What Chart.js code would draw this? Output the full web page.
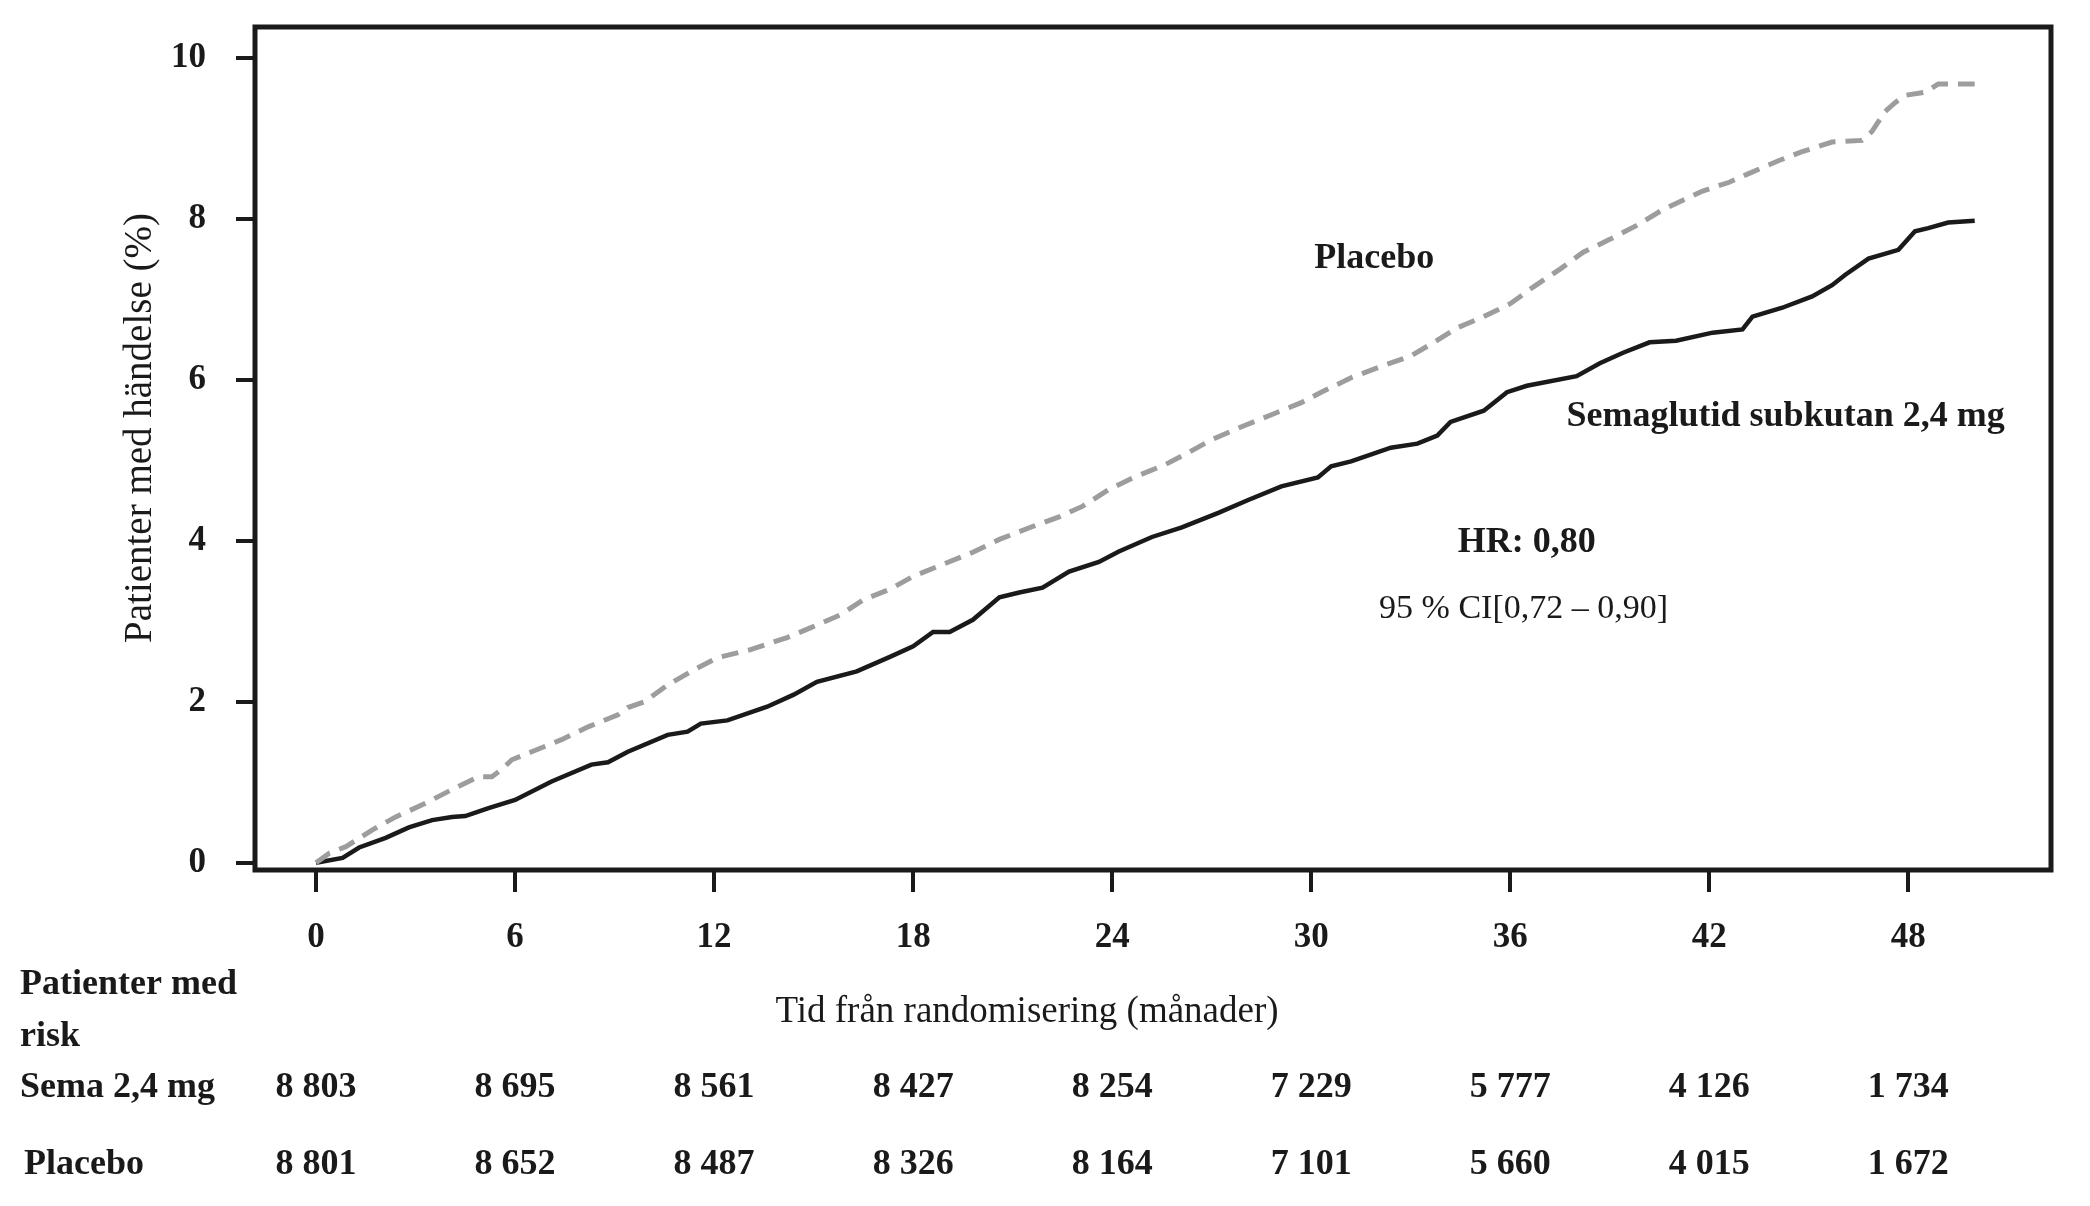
<!DOCTYPE html>
<html>
<head>
<meta charset="utf-8">
<script src="https://cdn.jsdelivr.net/npm/chart.js@4.4.0/dist/chart.umd.min.js"></script>
<style>
  html, body { margin: 0; padding: 0; background: #fff; }
  #grafico { display: block; }
</style>
</head>
<body>
<canvas id="grafico" width="2090" height="1206"></canvas>
<script>
// Semaglutid subkutan 2,4 mg (svart, heldragen)
const semaMeses = [0, 0.8, 1.3, 2.1, 2.8, 3.5, 4.1, 4.5, 5.2, 6.0, 7.1, 8.3, 8.8, 9.4, 10.6, 11.2, 11.6, 12.4,
  13.6, 14.4, 15.1, 16.3, 17.3, 18.0, 18.6, 19.1, 19.8, 20.6, 21.2, 21.9, 22.7, 23.6, 24.2, 25.2, 26.1,
  27.2, 28.1, 29.1, 30.2, 30.6, 31.2, 32.4, 33.2, 33.8, 34.2, 35.2, 35.6, 35.9, 36.5, 38.0, 38.7, 39.4,
  40.2, 41.0, 42.1, 43.0, 43.3, 44.2, 45.1, 45.7, 46.1, 46.8, 47.7, 48.2, 48.6, 49.2, 50.0];
const semaValores = [0, 0.06, 0.19, 0.31, 0.44, 0.53, 0.57, 0.58, 0.68, 0.78, 1.01, 1.22, 1.25, 1.38, 1.59, 1.63, 1.73, 1.77,
  1.94, 2.09, 2.25, 2.38, 2.56, 2.69, 2.87, 2.87, 3.02, 3.30, 3.36, 3.42, 3.62, 3.74, 3.87, 4.05, 4.17,
  4.35, 4.51, 4.68, 4.79, 4.93, 4.99, 5.16, 5.21, 5.31, 5.48, 5.62, 5.75, 5.85, 5.93, 6.05, 6.21, 6.34,
  6.47, 6.49, 6.59, 6.63, 6.79, 6.90, 7.04, 7.18, 7.31, 7.51, 7.62, 7.85, 7.89, 7.96, 7.98];

// Placebo (grå, streckad)
const placeboMeses = [0, 0.4, 0.9, 1.7, 2.4, 3.2, 4.1, 4.9, 5.3, 5.6, 5.9, 6.5, 7.4, 8.2, 9.1, 9.4, 9.9, 10.6, 11.4,
  12.1, 13.1, 14.2, 14.9, 15.8, 16.5, 17.3, 18.0, 18.9, 19.8, 20.6, 21.6, 22.4, 23.1, 23.9, 24.7, 25.6,
  26.3, 27.0, 27.9, 28.8, 29.7, 30.3, 31.2, 32.1, 33.0, 33.7, 34.4, 35.2, 36.0, 36.7, 37.5, 38.2, 39.0,
  39.8, 40.6, 41.8, 42.6, 43.2, 44.1, 44.8, 45.7, 46.6, 46.9, 47.3, 47.6, 47.9, 48.5, 48.9, 50.0];
const placeboValores = [0, 0.12, 0.20, 0.41, 0.57, 0.72, 0.91, 1.07, 1.07, 1.16, 1.28, 1.38, 1.53, 1.69, 1.84, 1.93, 2.00, 2.21, 2.40,
  2.55, 2.65, 2.80, 2.92, 3.08, 3.27, 3.40, 3.56, 3.71, 3.86, 4.02, 4.18, 4.30, 4.43, 4.64, 4.80, 4.95,
  5.10, 5.26, 5.42, 5.57, 5.72, 5.85, 6.03, 6.17, 6.30, 6.47, 6.65, 6.79, 6.95, 7.16, 7.38, 7.59, 7.75,
  7.92, 8.12, 8.35, 8.46, 8.57, 8.73, 8.84, 8.96, 8.98, 9.09, 9.34, 9.45, 9.54, 9.58, 9.68, 9.68];

// tabell: patienter med risk
const riskMeses = [0, 6, 12, 18, 24, 30, 36, 42, 48];
const riskSema = ['8 803', '8 695', '8 561', '8 427', '8 254', '7 229', '5 777', '4 126', '1 734'];
const riskPlacebo = ['8 801', '8 652', '8 487', '8 326', '8 164', '7 101', '5 660', '4 015', '1 672'];

const fuente = '"Liberation Serif", "Times New Roman", serif';
const tinta = '#1a1a1a';

function aPuntos(meses, valores) {
  return meses.map((m, i) => ({ x: m, y: valores[i] }));
}

function sinRelleno(scale) {
  scale.paddingTop = 0;
  scale.paddingBottom = 0;
  scale.paddingLeft = 0;
  scale.paddingRight = 0;
}

const textos = {
  id: 'textos',
  afterDraw(chart) {
    const ctx = chart.ctx;
    const area = chart.chartArea;
    const ex = chart.scales.x;
    const ey = chart.scales.y;

    ctx.save();
    // ram runt diagrammet
    ctx.strokeStyle = tinta;
    ctx.lineWidth = 5;
    ctx.strokeRect(area.left, area.top, area.right - area.left, area.bottom - area.top);

    ctx.fillStyle = tinta;
    ctx.textBaseline = 'middle';

    // y-axelns titel
    ctx.save();
    ctx.translate(141, 428);
    ctx.rotate(-Math.PI / 2);
    ctx.textAlign = 'center';
    ctx.font = '39px ' + fuente;
    ctx.fillText('Patienter med händelse (%)', 0, 0);
    ctx.restore();

    // x-axelns titel
    ctx.textAlign = 'center';
    ctx.font = '37px ' + fuente;
    ctx.fillText('Tid från randomisering (månader)', 1027, 1012);

    // etiketter i diagrammet
    ctx.font = 'bold 36px ' + fuente;
    ctx.fillText('Placebo', ex.getPixelForValue(31.9), ey.getPixelForValue(7.51));
    ctx.fillText('Semaglutid subkutan 2,4 mg', ex.getPixelForValue(44.3), ey.getPixelForValue(5.55));
    ctx.fillText('HR: 0,80', ex.getPixelForValue(36.5), ey.getPixelForValue(3.98));
    ctx.font = '34px ' + fuente;
    ctx.fillText('95 % CI[0,72 \u2013 0,90]', ex.getPixelForValue(36.4), ey.getPixelForValue(3.15));

    // tabell
    ctx.textAlign = 'left';
    ctx.font = 'bold 36px ' + fuente;
    ctx.fillText('Patienter med', 20, 985);
    ctx.fillText('risk', 20, 1037);
    ctx.fillText('Sema 2,4 mg', 20, 1088);
    ctx.fillText('Placebo', 24, 1165);

    ctx.textAlign = 'center';
    for (let i = 0; i < riskMeses.length; i++) {
      const px = ex.getPixelForValue(riskMeses[i]);
      ctx.fillText(riskSema[i], px, 1088);
      ctx.fillText(riskPlacebo[i], px, 1165);
    }
    ctx.restore();
  }
};

const ctxGrafico = document.querySelector('#grafico').getContext('2d');

const miGrafico = new Chart(ctxGrafico, {
  type: 'line',
  data: {
    datasets: [{
      label: 'Placebo',
      data: aPuntos(placeboMeses, placeboValores),
      borderColor: '#9d9d9d',
      borderWidth: 5,
      borderDash: [17, 10],
      pointRadius: 0,
      tension: 0,
      fill: false
    }, {
      label: 'Semaglutid subkutan 2,4 mg',
      data: aPuntos(semaMeses, semaValores),
      borderColor: tinta,
      borderWidth: 4.5,
      pointRadius: 0,
      tension: 0,
      fill: false
    }]
  },
  options: {
    responsive: false,
    maintainAspectRatio: false,
    devicePixelRatio: 1,
    animation: false,
    layout: { padding: { left: 0, top: 27, right: 39, bottom: 0 } },
    plugins: {
      legend: { display: false },
      tooltip: { enabled: false }
    },
    scales: {
      x: {
        type: 'linear',
        min: -1.84,
        max: 52.3,
        afterFit(scale) { scale.height = 336; sinRelleno(scale); },
        border: { display: false },
        grid: {
          drawOnChartArea: false,
          drawTicks: true,
          tickLength: 22,
          lineWidth: 4,
          color: tinta
        },
        ticks: {
          stepSize: 6,
          includeBounds: false,
          autoSkip: false,
          maxRotation: 0,
          padding: 25,
          color: tinta,
          font: { family: fuente, size: 35, weight: 'bold' }
        }
      },
      y: {
        min: -0.09,
        max: 10.39,
        afterFit(scale) { scale.width = 255; sinRelleno(scale); },
        border: { display: false },
        grid: {
          drawOnChartArea: false,
          drawTicks: true,
          tickLength: 19,
          lineWidth: 4,
          color: tinta
        },
        ticks: {
          stepSize: 2,
          includeBounds: false,
          padding: 30,
          color: tinta,
          font: { family: fuente, size: 35, weight: 'bold' }
        }
      }
    }
  },
  plugins: [textos]
});
</script>
</body>
</html>
